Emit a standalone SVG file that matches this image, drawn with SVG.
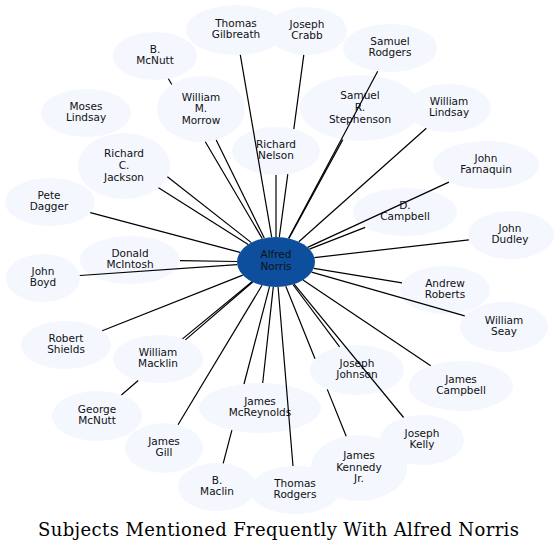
<svg xmlns="http://www.w3.org/2000/svg" width="558" height="552" viewBox="0 0 558 552">
<style>
.n ellipse{fill:#f4f7fe;stroke:none}
.c ellipse{fill:#0d4f9c;stroke:none}
text{font-family:"DejaVu Sans",Verdana,sans-serif;font-size:10.5px;text-anchor:middle;fill:#111}
#edges path{fill:none;stroke:#000;stroke-width:1.2}
.title{font-family:"DejaVu Serif","Liberation Serif",serif;font-size:18px;fill:#000}
</style>
<rect width="558" height="552" fill="#fff"/>
<g id="nodes">
<g id="gilbreath" class="n"><ellipse cx="236" cy="30" rx="50" ry="25"/><text><tspan x="236" y="26.8">Thomas</tspan><tspan x="236" y="38.3">Gilbreath</tspan></text></g>
<g id="crabb" class="n"><ellipse cx="307" cy="31" rx="40" ry="24"/><text><tspan x="307" y="27.8">Joseph</tspan><tspan x="307" y="39.3">Crabb</tspan></text></g>
<g id="bmcnutt" class="n"><ellipse cx="155" cy="56" rx="42" ry="24"/><text><tspan x="155" y="52.8">B.</tspan><tspan x="155" y="64.3">McNutt</tspan></text></g>
<g id="srodgers" class="n"><ellipse cx="390" cy="48" rx="47" ry="24"/><text><tspan x="390" y="44.8">Samuel</tspan><tspan x="390" y="56.3">Rodgers</tspan></text></g>
<g id="mlindsay" class="n"><ellipse cx="86" cy="113" rx="45" ry="24"/><text><tspan x="86" y="109.8">Moses</tspan><tspan x="86" y="121.3">Lindsay</tspan></text></g>
<g id="morrow" class="n"><ellipse cx="201" cy="109" rx="44" ry="33"/><text><tspan x="201" y="100.5">William</tspan><tspan x="201" y="112.2">M.</tspan><tspan x="201" y="123.9">Morrow</tspan></text></g>
<g id="stephenson" class="n"><ellipse cx="360" cy="108" rx="60" ry="33"/><text><tspan x="360" y="99.3">Samuel</tspan><tspan x="360" y="111">R.</tspan><tspan x="360" y="122.7">Stephenson</tspan></text></g>
<g id="wlindsay" class="n"><ellipse cx="449" cy="108" rx="42" ry="24"/><text><tspan x="449" y="104.8">William</tspan><tspan x="449" y="116.3">Lindsay</tspan></text></g>
<g id="jackson" class="n"><ellipse cx="124" cy="166" rx="46" ry="33"/><text><tspan x="124" y="157.3">Richard</tspan><tspan x="124" y="169">C.</tspan><tspan x="124" y="180.7">Jackson</tspan></text></g>
<g id="nelson" class="n"><ellipse cx="276" cy="151" rx="44" ry="24"/><text><tspan x="276" y="147.8">Richard</tspan><tspan x="276" y="159.3">Nelson</tspan></text></g>
<g id="farnaquin" class="n"><ellipse cx="486" cy="165" rx="53" ry="24"/><text><tspan x="486" y="161.8">John</tspan><tspan x="486" y="173.3">Farnaquin</tspan></text></g>
<g id="dagger" class="n"><ellipse cx="50" cy="202" rx="45" ry="24"/><text><tspan x="49" y="198.8">Pete</tspan><tspan x="49" y="210.3">Dagger</tspan></text></g>
<g id="dcampbell" class="n"><ellipse cx="405" cy="212" rx="52" ry="24"/><text><tspan x="405" y="208.8">D.</tspan><tspan x="405" y="220.3">Campbell</tspan></text></g>
<g id="dudley" class="n"><ellipse cx="511" cy="235" rx="43" ry="24"/><text><tspan x="510" y="231.8">John</tspan><tspan x="510" y="243.3">Dudley</tspan></text></g>
<g id="mcintosh" class="n"><ellipse cx="130" cy="260" rx="50" ry="24"/><text><tspan x="130" y="256.8">Donald</tspan><tspan x="130" y="268.3">McIntosh</tspan></text></g>
<g id="boyd" class="n"><ellipse cx="43" cy="278" rx="37" ry="24"/><text><tspan x="43" y="274.8">John</tspan><tspan x="43" y="286.3">Boyd</tspan></text></g>
<g id="roberts" class="n"><ellipse cx="445" cy="290" rx="45" ry="24"/><text><tspan x="445" y="286.8">Andrew</tspan><tspan x="445" y="298.3">Roberts</tspan></text></g>
<g id="seay" class="n"><ellipse cx="504" cy="327" rx="44" ry="25"/><text><tspan x="504" y="323.8">William</tspan><tspan x="504" y="335.3">Seay</tspan></text></g>
<g id="shields" class="n"><ellipse cx="66" cy="345" rx="45" ry="24"/><text><tspan x="66" y="341.8">Robert</tspan><tspan x="66" y="353.3">Shields</tspan></text></g>
<g id="macklin" class="n"><ellipse cx="158" cy="359" rx="45" ry="24"/><text><tspan x="158" y="355.8">William</tspan><tspan x="158" y="367.3">Macklin</tspan></text></g>
<g id="johnson" class="n"><ellipse cx="357" cy="370" rx="47" ry="25"/><text><tspan x="357" y="366.8">Joseph</tspan><tspan x="357" y="378.3">Johnson</tspan></text></g>
<g id="jcampbell" class="n"><ellipse cx="461" cy="386" rx="52" ry="25"/><text><tspan x="461" y="382.8">James</tspan><tspan x="461" y="394.3">Campbell</tspan></text></g>
<g id="gmcnutt" class="n"><ellipse cx="97" cy="416" rx="45" ry="25"/><text><tspan x="97" y="412.8">George</tspan><tspan x="97" y="424.3">McNutt</tspan></text></g>
<g id="mcreynolds" class="n"><ellipse cx="260" cy="408" rx="61" ry="25"/><text><tspan x="260" y="404.8">James</tspan><tspan x="260" y="416.3">McReynolds</tspan></text></g>
<g id="kelly" class="n"><ellipse cx="422" cy="440" rx="42" ry="25"/><text><tspan x="422" y="436.8">Joseph</tspan><tspan x="422" y="448.3">Kelly</tspan></text></g>
<g id="gill" class="n"><ellipse cx="164" cy="448" rx="39" ry="25"/><text><tspan x="164" y="444.8">James</tspan><tspan x="164" y="456.3">Gill</tspan></text></g>
<g id="kennedy" class="n"><ellipse cx="359" cy="468" rx="48" ry="33"/><text><tspan x="359" y="459">James</tspan><tspan x="359" y="470.7">Kennedy</tspan><tspan x="359" y="482.4">Jr.</tspan></text></g>
<g id="maclin" class="n"><ellipse cx="217" cy="487" rx="39" ry="24"/><text><tspan x="217" y="483.8">B.</tspan><tspan x="217" y="495.3">Maclin</tspan></text></g>
<g id="trodgers" class="n"><ellipse cx="295" cy="490" rx="45" ry="24"/><text><tspan x="295" y="486.8">Thomas</tspan><tspan x="295" y="498.3">Rodgers</tspan></text></g>
<g id="norris" class="c"><ellipse cx="276" cy="262" rx="39" ry="25"/><text><tspan x="276" y="258.3">Alfred</tspan><tspan x="276" y="269.8">Norris</tspan></text></g>
</g>
<g id="edges">
<path d="M271.7,237.2 L240.3,54.9"/>
<path d="M279.3,237.1 L287.8,174.1 M293.8,129.1 L303.8,54.9"/>
<path d="M262.3,238.6 L205.3,141.7 M171.8,84.5 L168.4,78.8"/>
<path d="M288.6,238.3 L377.7,71.2"/>
<path d="M251.3,242.6 L167.4,176.8"/>
<path d="M264.3,238.1 L216.2,140"/>
<path d="M288.9,238.4 L342.8,139.6"/>
<path d="M298.8,241.7 L426.3,128.2"/>
<path d="M248.2,244.5 L158.5,187.8"/>
<path d="M276,237 L276,175"/>
<path d="M307.6,247.4 L448.9,182.1"/>
<path d="M240,252.4 L90.3,212.7"/>
<path d="M309.4,249.1 L365.2,227.4"/>
<path d="M314.4,257.6 L468.9,239.8"/>
<path d="M237,261.5 L180,260.7"/>
<path d="M237.2,264.7 L79.8,275.5"/>
<path d="M313.8,268.3 L402,282.9"/>
<path d="M311.6,272.2 L464.7,315.8"/>
<path d="M242.8,275.1 L102.2,330.7"/>
<path d="M252,281.7 L182.5,338.9"/>
<path d="M252.7,282 L185.4,339.9 M138.2,380.5 L121.4,395"/>
<path d="M273.3,286.9 L262.7,383"/>
<path d="M269.5,286.7 L244,384 M231.9,430.1 L223.2,463.3"/>
<path d="M278.1,287 L293,466"/>
<path d="M262,285.3 L178,424.7"/>
<path d="M292.9,284.5 L339.6,346.8"/>
<path d="M303,280.1 L430.7,365.7"/>
<path d="M294.1,284.1 L403.6,417.5"/>
<path d="M285.8,286.2 L315,358.8 M327.3,389.4 L346.2,436.2"/>
</g>
<text class="title" x="278.5" y="536" textLength="481">Subjects Mentioned Frequently With Alfred Norris</text>
</svg>
